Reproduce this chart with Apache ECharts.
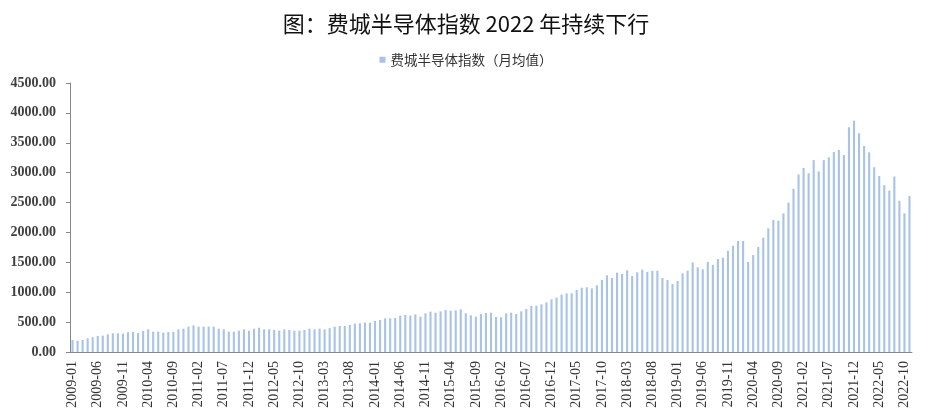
<!DOCTYPE html>
<html><head><meta charset="utf-8">
<script src="https://cdn.jsdelivr.net/npm/echarts@6/dist/echarts.min.js"></script>
<style>html,body{margin:0;padding:0;background:#fff}#c{width:932px;height:420px}</style>
</head><body><div id="c"></div>
<script>
const titleText = '图：费城半导体指数 2022 年持续下行';
const seriesName = '费城半导体指数（月均值）';
const startYear = 2009, startMonth = 1;
const soxValues = [
 201,190,201,229,246,268,274,296,313,313,307,329,
 335,318,351,379,340,340,324,335,340,379,390,424,
 446,424,424,424,424,390,379,340,340,357,379,357,
 390,407,379,379,368,357,379,368,357,357,368,390,
 379,390,379,400,424,435,435,452,475,480,491,491,
 519,535,563,563,569,608,619,608,630,591,647,675,
 658,680,703,691,697,714,647,614,591,636,652,658,
 586,580,647,658,636,680,719,770,775,797,831,881,
 909,959,981,981,1037,1076,1082,1065,1115,1205,1283,1238,
 1327,1305,1367,1271,1333,1377,1340,1360,1360,1238,1205,1138,
 1188,1316,1360,1500,1417,1383,1506,1456,1556,1578,1695,1778,
 1857,1857,1506,1623,1757,1912,2069,2208,2197,2320,2500,2730,
 2970,3080,2990,3210,3020,3210,3255,3345,3380,3295,3760,3870,
 3660,3445,3340,3090,2945,2790,2700,2935,2530,2320,2610
];
const months = [];
for (let i = 0; i < soxValues.length; i++) {
  const t = (startYear * 12 + startMonth - 1) + i;
  const y = Math.floor(t / 12), m = t % 12 + 1;
  months.push(y + '-' + (m < 10 ? '0' + m : m));
}
const yTicks = {min: 0, max: 4500, interval: 500};

const chart = echarts.init(document.getElementById('c'), null, {renderer: 'canvas'});
chart.setOption({
  animation: false,
  backgroundColor: '#fff',
  title: {
    text: titleText, left: 'center', top: 8,
    textStyle: {fontFamily: '"Noto Sans CJK SC", sans-serif', fontSize: 22, fontWeight: 'normal', color: '#111'}
  },
  legend: {
    data: [seriesName], top: 48, left: 'center', icon: 'rect', itemWidth: 6, itemHeight: 6, itemGap: 5,
    textStyle: {fontFamily: '"Noto Sans CJK SC", sans-serif', fontSize: 13.5, color: '#333'}
  },
  grid: {left: 70, right: 20, top: 83, bottom: 68, containLabel: false},
  xAxis: {
    type: 'category', data: months, boundaryGap: true,
    axisLine: {lineStyle: {color: '#888', width: 1}},
    axisTick: {show: false},
    axisLabel: {interval: 4, rotate: 90, margin: 9, fontFamily: '"Liberation Serif", serif', fontSize: 14, color: '#333'}
  },
  yAxis: {
    type: 'value', min: yTicks.min, max: yTicks.max, interval: yTicks.interval,
    axisLine: {show: true, lineStyle: {color: '#888'}},
    axisTick: {show: true, length: 4, lineStyle: {color: '#888'}},
    splitLine: {show: false},
    axisLabel: {formatter: v => v.toFixed(2), margin: 14, fontFamily: '"Liberation Serif", serif', fontSize: 14, fontWeight: 'bold', color: '#404040'}
  },
  series: [{
    name: seriesName, type: 'bar', data: soxValues, barWidth: '42%',
    itemStyle: {color: '#a9c3e8'}
  }]
});
</script></body></html>
